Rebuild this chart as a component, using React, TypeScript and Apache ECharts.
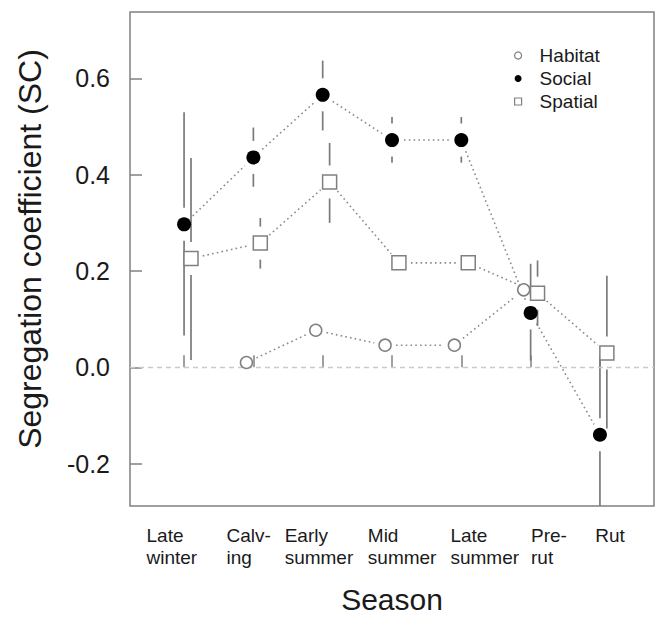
import { useEffect, useRef } from "react";
import * as echarts from "echarts";

// Seasons (x categories) and where each two-line label starts (left-aligned, in axis units)
const seasons = ["Late\nwinter", "Calv-\ning", "Early\nsummer", "Mid\nsummer", "Late\nsummer", "Pre-\nrut", "Rut"];
const seasonLabelAnchors = [0.458, 1.611, 2.451, 3.651, 4.843, 6.006, 6.932];
const seasonTicks = [1, 2, 3, 4, 5, 6, 7];
const yTicks = [-0.2, 0.0, 0.2, 0.4, 0.6];

// Segregation coefficients with confidence limits (null = not estimated / not shown)
const habitatSC = [null, 0.01, 0.077, 0.046, 0.046, 0.161, null];

const socialSC = [0.297, 0.436, 0.566, 0.472, 0.472, 0.113, -0.14];
const socialLow = [0.066, 0.375, 0.492, 0.425, 0.425, 0.014, -0.32];
const socialHigh = [0.53, 0.498, 0.637, 0.52, 0.52, 0.215, 0.02];

const spatialSC = [0.226, 0.258, 0.385, 0.217, 0.217, 0.154, 0.03];
const spatialLow = [0.015, 0.205, 0.3, null, null, 0.086, -0.127];
const spatialHigh = [0.435, 0.31, 0.466, null, null, 0.222, 0.19];

// horizontal dodge so the three groups do not overlap
const DODGE = { Habitat: -0.1, Social: 0, Spatial: 0.1 };

const FONT = '"Liberation Sans", Arial, Helvetica, sans-serif';
const GREY = "#808080";

type Pt = [number, number];

function points(values: (number | null)[], offset: number): Pt[] {
  const out: Pt[] = [];
  values.forEach((v, i) => {
    if (v !== null) out.push([i + 1 + offset, v]);
  });
  return out;
}

function errorRows(values: (number | null)[], low: (number | null)[], high: (number | null)[], offset: number) {
  const out: number[][] = [];
  values.forEach((v, i) => {
    const lo = low[i];
    const hi = high[i];
    if (v !== null && lo !== null && hi !== null) out.push([i + 1 + offset, v, lo, hi]);
  });
  return out;
}

// dotted connectors that stop short of each point (type "b" style)
function connectorSeries(pts: Pt[], gap: number) {
  const rows = pts.slice(0, -1).map((p, i) => [p[0], p[1], pts[i + 1][0], pts[i + 1][1]]);
  return {
    type: "custom",
    silent: true,
    z: 3,
    data: rows,
    encode: { x: [0, 2], y: [1, 3] },
    renderItem: (_params: any, api: any) => {
      const a = api.coord([api.value(0), api.value(1)]);
      const b = api.coord([api.value(2), api.value(3)]);
      const dx = b[0] - a[0];
      const dy = b[1] - a[1];
      const len = Math.hypot(dx, dy);
      if (len <= 2 * gap) return null;
      const ux = dx / len;
      const uy = dy / len;
      return {
        type: "line",
        shape: { x1: a[0] + ux * gap, y1: a[1] + uy * gap, x2: b[0] - ux * gap, y2: b[1] - uy * gap },
        style: { stroke: "#8a8a8a", lineWidth: 1.6, lineDash: [1.6, 3.2] },
      };
    },
  };
}

// vertical confidence bars with a gap around the point
function errorBarSeries(rows: number[][], gap: number) {
  return {
    type: "custom",
    silent: true,
    clip: true,
    z: 4,
    data: rows,
    encode: { x: 0, y: [1, 2, 3] },
    renderItem: (params: any, api: any) => {
      const x = api.value(0);
      const c = api.coord([x, api.value(1)]);
      const lo = api.coord([x, api.value(2)]);
      const hi = api.coord([x, api.value(3)]);
      const cs = params.coordSys;
      const top = Math.max(hi[1], cs.y);
      const bottom = Math.min(lo[1], cs.y + cs.height);
      const style = { stroke: "#7a7a7a", lineWidth: 1.7 };
      const children: any[] = [];
      if (top < c[1] - gap) {
        children.push({ type: "line", shape: { x1: c[0], y1: top, x2: c[0], y2: c[1] - gap }, style });
      }
      if (bottom > c[1] + gap) {
        children.push({ type: "line", shape: { x1: c[0], y1: c[1] + gap, x2: c[0], y2: bottom }, style });
      }
      return { type: "group", children };
    },
  };
}

export default function App() {
  const ref = useRef<HTMLDivElement>(null);

  useEffect(() => {
    if (!ref.current) return;
    const chart = echarts.init(ref.current, undefined, { renderer: "svg" });

    const habitatPts = points(habitatSC, DODGE.Habitat);
    const socialPts = points(socialSC, DODGE.Social);
    const spatialPts = points(spatialSC, DODGE.Spatial);

    const nearestSeason = (v: number) => {
      let best = 0;
      seasonLabelAnchors.forEach((a, i) => {
        if (Math.abs(a - v) < Math.abs(seasonLabelAnchors[best] - v)) best = i;
      });
      return seasons[best];
    };

    chart.setOption({
      animation: false,
      backgroundColor: "#ffffff",
      textStyle: { fontFamily: FONT },
      grid: {
        left: 130,
        right: 6,
        top: 12,
        bottom: 107,
        show: true,
        borderColor: GREY,
        borderWidth: 1.5,
        backgroundColor: "transparent",
      },
      legend: {
        orient: "vertical",
        left: 509,
        top: 39,
        itemWidth: 7,
        itemHeight: 7,
        itemGap: 0,
        selectedMode: false,
        textStyle: { fontFamily: FONT, fontSize: 19, color: "#1a1a1a", lineHeight: 23, padding: [0, 0, 0, 13] },
        data: [
          { name: "Habitat", icon: "circle", itemStyle: { color: "#fff", borderColor: GREY, borderWidth: 1.2 } },
          { name: "Social", icon: "circle", itemStyle: { color: "#000", borderColor: "#000", borderWidth: 0 } },
          { name: "Spatial", icon: "rect", itemStyle: { color: "#fff", borderColor: GREY, borderWidth: 1.2 } },
        ],
      },
      xAxis: {
        type: "value",
        min: 0.22,
        max: 7.78,
        name: "Season",
        nameLocation: "middle",
        nameGap: 78,
        nameTextStyle: { fontFamily: FONT, fontSize: 30, color: "#1a1a1a" },
        axisLine: { show: false },
        splitLine: { show: false },
        axisTick: {
          show: true,
          inside: true,
          length: 12,
          customValues: seasonTicks,
          lineStyle: { color: GREY, width: 1.5 },
        },
        axisLabel: {
          show: true,
          customValues: seasonLabelAnchors,
          formatter: (v: number) => nearestSeason(v),
          align: "left",
          margin: 18,
          fontFamily: FONT,
          fontSize: 19,
          lineHeight: 22,
          color: "#1a1a1a",
        },
      },
      yAxis: {
        type: "value",
        min: -0.288,
        max: 0.738,
        axisLine: { show: false },
        splitLine: { show: false },
        axisTick: {
          show: true,
          inside: true,
          length: 12,
          customValues: yTicks,
          lineStyle: { color: GREY, width: 1.5 },
        },
        axisLabel: {
          show: true,
          customValues: yTicks,
          formatter: (v: number) => v.toFixed(1),
          margin: 20,
          fontFamily: FONT,
          fontSize: 25,
          color: "#1a1a1a",
        },
      },
      graphic: [
        {
          type: "text",
          x: 30,
          y: 249,
          rotation: Math.PI / 2,
          silent: true,
          style: {
            text: "Segregation coefficient (SC)",
            font: `32px ${FONT}`,
            fill: "#1a1a1a",
            align: "center",
            verticalAlign: "middle",
          },
        },
      ],
      series: [
        connectorSeries(habitatPts, 11),
        connectorSeries(socialPts, 12),
        connectorSeries(spatialPts, 12),
        errorBarSeries(errorRows(socialSC, socialLow, socialHigh, DODGE.Social), 16.5),
        errorBarSeries(errorRows(spatialSC, spatialLow, spatialHigh, DODGE.Spatial), 16.5),
        {
          name: "Habitat",
          type: "scatter",
          z: 10,
          data: habitatPts,
          symbol: "circle",
          symbolSize: 12,
          itemStyle: { color: "#fff", borderColor: GREY, borderWidth: 1.5, opacity: 1 },
          markLine: {
            silent: true,
            symbol: "none",
            label: { show: false },
            lineStyle: { color: "#c9c9c9", type: [5, 4], width: 1.3 },
            data: [{ yAxis: 0 }],
          },
        },
        {
          name: "Social",
          type: "scatter",
          z: 11,
          data: socialPts,
          symbol: "circle",
          symbolSize: 14,
          itemStyle: { color: "#000", opacity: 1 },
        },
        {
          name: "Spatial",
          type: "scatter",
          z: 10,
          data: spatialPts,
          symbol: "rect",
          symbolSize: 14,
          itemStyle: { color: "#fff", borderColor: GREY, borderWidth: 1.5, opacity: 1 },
        },
      ],
    });

    return () => chart.dispose();
  }, []);

  return (
    <div
      ref={ref}
      style={{ position: "fixed", left: 0, top: 0, width: 660, height: 619, background: "#fff" }}
    />
  );
}
